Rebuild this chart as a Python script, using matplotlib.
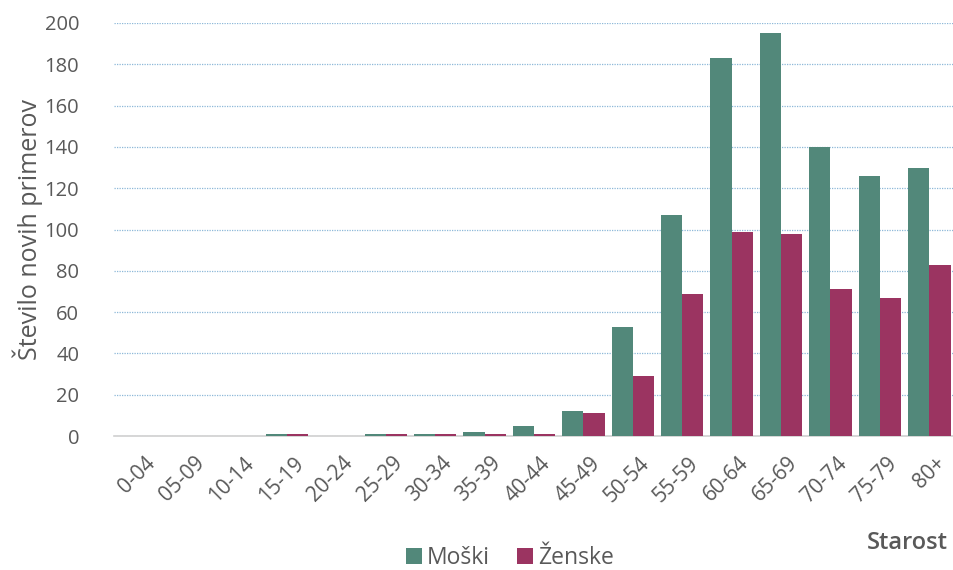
import numpy as np
import matplotlib
matplotlib.use("Agg")
import matplotlib.pyplot as plt
from matplotlib.transforms import ScaledTranslation

# data
age_groups = ["0-04", "05-09", "10-14", "15-19", "20-24", "25-29", "30-34", "35-39",
              "40-44", "45-49", "50-54", "55-59", "60-64", "65-69", "70-74", "75-79", "80+"]
moski = [0, 0, 0, 1, 0, 1, 1, 2, 5, 12, 53, 107, 183, 195, 140, 126, 130]
zenske = [0, 0, 0, 1, 0, 1, 1, 1, 1, 11, 29, 69, 99, 98, 71, 67, 83]

plt.rcParams['font.family'] = ['Open Sans', 'DejaVu Sans']
text_color = "#595959"
green = "#52887A"
pink = "#9B3461"

fig = plt.figure(figsize=(9.54, 5.70), dpi=100)
ax = fig.add_axes([114/954, 1 - 436/570, 840/954, 413/570])

x = np.arange(len(age_groups))
w = 0.43
ax.bar(x - w/2, moski, width=w, color=green, label="Moški", zorder=3)
ax.bar(x + w/2, zenske, width=w, color=pink, label="Ženske", zorder=3)

ax.set_xlim(-0.5, len(age_groups) - 0.5)
ax.set_ylim(0, 200)
ax.set_yticks(range(0, 201, 20))
ax.yaxis.grid(True, color="#8DB8D8", linestyle=(0, (1, 1)), linewidth=0.9, zorder=0)
ax.set_axisbelow(True)

for s in ["top", "right", "left"]:
    ax.spines[s].set_visible(False)
ax.spines["bottom"].set_color("#D0D0D0")
ax.spines["bottom"].set_linewidth(1.2)

ax.set_xticks(x)
ax.set_xticklabels(age_groups, rotation=45, ha="right", rotation_mode="anchor")
ax.tick_params(axis="x", length=0, labelsize=15, colors=text_color, pad=12)
ax.tick_params(axis="y", length=0, labelsize=14.5, colors=text_color, pad=25)
shift = ScaledTranslation(6/100, 0, fig.dpi_scale_trans)
for lbl in ax.get_xticklabels():
    lbl.set_transform(lbl.get_transform() + shift)

ax.set_ylabel("Število novih primerov", fontsize=18, color=text_color, labelpad=1)
fig.text(948/954, 1 - 543/570, "Starost", ha="right", va="center",
         fontsize=17, fontweight="semibold", color=text_color)

ax.legend(loc="center", bbox_to_anchor=(510/954, 1 - 558/570), bbox_transform=fig.transFigure,
          ncol=2, frameon=False, fontsize=16.5, labelcolor=text_color,
          handlelength=0.7, handleheight=0.7, handletextpad=0.2, columnspacing=1.2)

fig.savefig("out.png", dpi=100)
